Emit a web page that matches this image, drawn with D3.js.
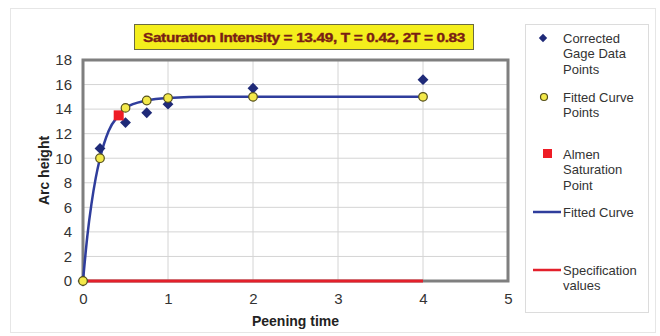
<!DOCTYPE html>
<html>
<head>
<meta charset="utf-8">
<script src="https://cdn.jsdelivr.net/npm/d3@7"></script>
<style>
  body { margin: 0; background: #fff; }
  text { font-family: "Liberation Sans", Arial, sans-serif; }
</style>
</head>
<body>
<div id="chart"></div>
<script>
// gage data (diamonds)
const gageTime = [0, 0.2, 0.5, 0.75, 1, 2, 4];
const gageHeight = [0, 10.8, 12.9, 13.7, 14.4, 15.7, 16.4];
// fitted curve points (circles)
const fitTime = [0, 0.2, 0.5, 0.75, 1, 2, 4];
const fitHeight = [0, 10.0, 14.1, 14.7, 14.9, 15.0, 15.0];
// the drawn fitted curve
const curveTime = [0, 0.05, 0.1, 0.15, 0.2, 0.3, 0.42, 0.5, 0.75, 1, 1.5, 2, 4];
const curveHeight = [0, 3.6, 6.3, 8.4, 10.0, 12.2, 13.5, 14.1, 14.7, 14.9, 15.0, 15.0, 15.0];
// almen saturation point
const satTime = [0.42];
const satHeight = [13.49];
// specification values
const specTime = [0, 4];
const specHeight = [0, 0];
const xTicks = [0, 1, 2, 3, 4, 5];
const yTicks = [0, 2, 4, 6, 8, 10, 12, 14, 16, 18];
const titleText = "Saturation Intensity = 13.49, T = 0.42, 2T = 0.83";

const W = 660, H = 336;
const margin = {top: 60, right: 152, bottom: 55, left: 83};
const width = W - margin.left - margin.right;
const height = H - margin.top - margin.bottom;

const svg = d3.select("#chart").append("svg")
  .attr("width", W)
  .attr("height", H);

// outer chart border
svg.append("rect")
  .attr("x", 10.5).attr("y", 8.5)
  .attr("width", 645).attr("height", 324)
  .attr("fill", "#fff")
  .attr("stroke", "#e6e6e6");

const g = svg.append("g")
  .attr("transform", "translate(" + margin.left + "," + margin.top + ")");

const x = d3.scaleLinear().domain([0, 5]).range([0, width]);
const y = d3.scaleLinear().domain([0, 18]).range([height, 0]);

// grid
g.append("g")
  .selectAll("line")
  .data(yTicks.slice(1, -1))
  .enter().append("line")
  .attr("x1", 0).attr("x2", width)
  .attr("y1", d => y(d)).attr("y2", d => y(d))
  .attr("stroke", "#d4d4d4").attr("stroke-width", 1);
g.append("g")
  .selectAll("line")
  .data(xTicks.slice(1, -1))
  .enter().append("line")
  .attr("y1", 0).attr("y2", height)
  .attr("x1", d => x(d)).attr("x2", d => x(d))
  .attr("stroke", "#d4d4d4").attr("stroke-width", 1);

// frame
g.append("rect")
  .attr("x", 0).attr("y", 0)
  .attr("width", width).attr("height", height)
  .attr("fill", "none")
  .attr("stroke", "#7f7f7f").attr("stroke-width", 3);

// axes (labels only)
const xAxis = g.append("g")
  .attr("transform", "translate(0," + height + ")")
  .call(d3.axisBottom(x).tickValues(xTicks).tickFormat(d3.format("d")).tickSize(0).tickPadding(12));
const yAxis = g.append("g")
  .call(d3.axisLeft(y).tickValues(yTicks).tickFormat(d3.format("d")).tickSize(0).tickPadding(11));
[xAxis, yAxis].forEach(a => {
  a.select(".domain").remove();
  a.selectAll("text")
    .style("font-family", "'Liberation Sans', Arial, sans-serif")
    .style("font-size", "15px")
    .attr("fill", "#333");
});

// specification line
g.append("path")
  .datum(specTime.map((t, i) => [t, specHeight[i]]))
  .attr("d", d3.line().x(d => x(d[0])).y(d => y(d[1])))
  .attr("fill", "none")
  .attr("stroke", "#e3202b").attr("stroke-width", 3);

// fitted curve
g.append("path")
  .datum(curveTime.map((t, i) => [t, curveHeight[i]]))
  .attr("d", d3.line().curve(d3.curveMonotoneX).x(d => x(d[0])).y(d => y(d[1])))
  .attr("fill", "none")
  .attr("stroke", "#2f3d9c").attr("stroke-width", 2.5);

// diamonds
const diamond = d3.symbol().type(d3.symbolDiamond2).size(75);
g.selectAll(".gage")
  .data(gageTime.map((t, i) => [t, gageHeight[i]]))
  .enter().append("path")
  .attr("class", "gage")
  .attr("d", diamond)
  .attr("transform", d => "translate(" + x(d[0]) + "," + y(d[1]) + ")")
  .attr("fill", "#1f2a78");

// saturation square
g.selectAll(".sat")
  .data(satTime.map((t, i) => [t, satHeight[i]]))
  .enter().append("rect")
  .attr("class", "sat")
  .attr("x", d => x(d[0]) - 5).attr("y", d => y(d[1]) - 5)
  .attr("width", 10).attr("height", 10)
  .attr("fill", "#ee1c25");

// fitted circles
g.selectAll(".fit")
  .data(fitTime.map((t, i) => [t, fitHeight[i]]))
  .enter().append("circle")
  .attr("class", "fit")
  .attr("cx", d => x(d[0])).attr("cy", d => y(d[1]))
  .attr("r", 4.3)
  .attr("fill", "#f3e94a")
  .attr("stroke", "#55501a").attr("stroke-width", 1.2);

// axis titles
svg.append("text")
  .attr("x", margin.left + width / 2).attr("y", 326)
  .attr("text-anchor", "middle")
  .style("font-size", "14px").style("font-weight", "bold")
  .attr("fill", "#222")
  .text("Peening time");
svg.append("text")
  .attr("transform", "translate(49," + (margin.top + height / 2) + ") rotate(-90)")
  .attr("text-anchor", "middle")
  .style("font-size", "14px").style("font-weight", "bold")
  .attr("fill", "#222")
  .text("Arc height");

// title box
svg.append("rect")
  .attr("x", 134.5).attr("y", 24.5)
  .attr("width", 339).attr("height", 25)
  .attr("fill", "#f4ee1c")
  .attr("stroke", "#6b6b40").attr("stroke-width", 1);
svg.append("text")
  .attr("x", 304).attr("y", 42)
  .attr("text-anchor", "middle")
  .attr("textLength", 322)
  .attr("lengthAdjust", "spacingAndGlyphs")
  .style("font-size", "13.5px").style("font-weight", "bold")
  .style("letter-spacing", "-0.3px")
  .attr("fill", "#7a1e14")
  .attr("stroke", "#7a1e14").attr("stroke-width", 0.4)
  .text(titleText);

// legend
svg.append("rect")
  .attr("x", 525.5).attr("y", 24.5)
  .attr("width", 123).attr("height", 288)
  .attr("fill", "#fff")
  .attr("stroke", "#dcdcdc");

const legend = svg.append("g");
const lx = 563;
function legendText(lines, y0) {
  const t = legend.append("text")
    .attr("x", lx).attr("y", y0)
    .style("font-size", "13px")
    .attr("fill", "#333");
  lines.forEach((s, i) => {
    t.append("tspan").attr("x", lx).attr("dy", i === 0 ? "0.35em" : 15.5).text(s);
  });
}
legend.append("path")
  .attr("d", d3.symbol().type(d3.symbolDiamond2).size(45))
  .attr("transform", "translate(543,38)")
  .attr("fill", "#1f2a78");
legendText(["Corrected", "Gage Data", "Points"], 38);

legend.append("circle")
  .attr("cx", 544).attr("cy", 97).attr("r", 3.5)
  .attr("fill", "#f3e94a").attr("stroke", "#55501a").attr("stroke-width", 1.2);
legendText(["Fitted Curve", "Points"], 97);

legend.append("rect")
  .attr("x", 543).attr("y", 149).attr("width", 9).attr("height", 9)
  .attr("fill", "#ee1c25");
legendText(["Almen", "Saturation", "Point"], 154);

legend.append("line")
  .attr("x1", 533).attr("x2", 561).attr("y1", 212).attr("y2", 212)
  .attr("stroke", "#2f3d9c").attr("stroke-width", 2.5);
legendText(["Fitted Curve"], 212);

legend.append("line")
  .attr("x1", 533).attr("x2", 561).attr("y1", 270).attr("y2", 270)
  .attr("stroke", "#e3202b").attr("stroke-width", 2.5);
legendText(["Specification", "values"], 270);
</script>
</body>
</html>
